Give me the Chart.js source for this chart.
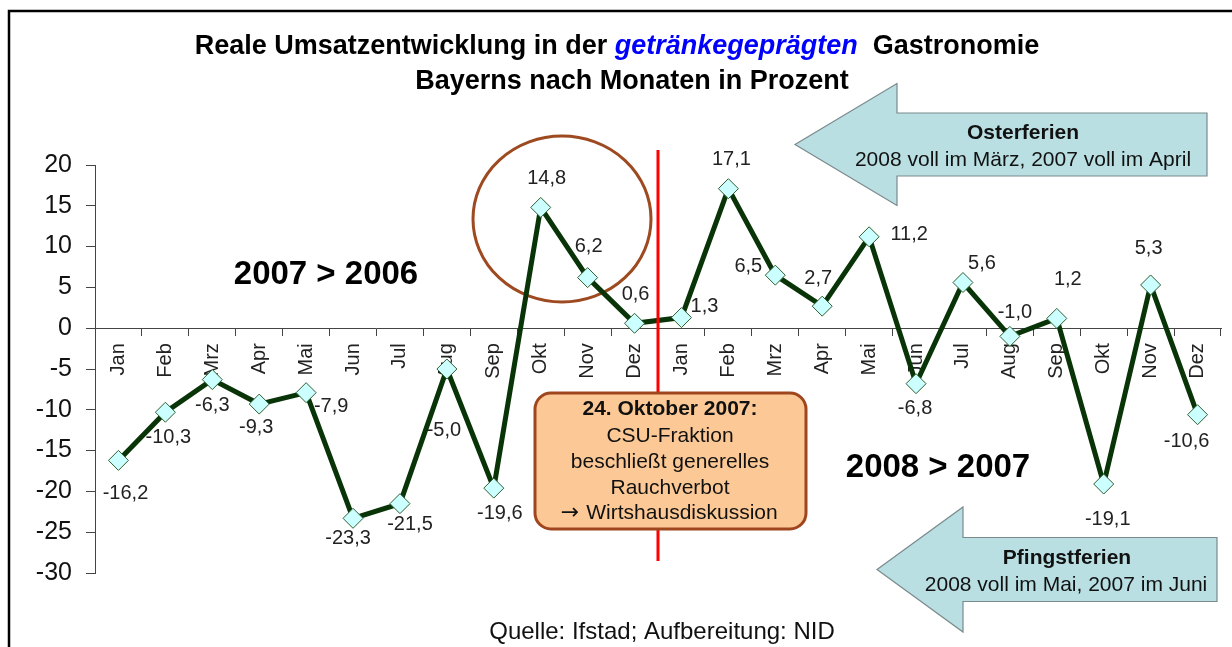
<!DOCTYPE html>
<html>
<head>
<meta charset="utf-8">
<script src="https://cdn.jsdelivr.net/npm/chart.js@4.4.1/dist/chart.umd.min.js"></script>
<style>
  html, body { margin: 0; padding: 0; background: #fff; }
  #wrap { width: 1232px; height: 647px; }
</style>
</head>
<body>
<div id="wrap"><canvas id="myChart" width="1232" height="647"></canvas></div>
<script>
// data: Veränderung zum Vorjahresmonat in %
const months = ['Jan', 'Feb', 'Mrz', 'Apr', 'Mai', 'Jun', 'Jul', 'Aug', 'Sep', 'Okt', 'Nov', 'Dez',
                'Jan', 'Feb', 'Mrz', 'Apr', 'Mai', 'Jun', 'Jul', 'Aug', 'Sep', 'Okt', 'Nov', 'Dez'];
const umsatz = [-16.2, -10.3, -6.3, -9.3, -7.9, -23.3, -21.5, -5.0, -19.6, 14.8, 6.2, 0.6,
                1.3, 17.1, 6.5, 2.7, 11.2, -6.8, 5.6, -1.0, 1.2, -19.1, 5.3, -10.6];
const yMin = -30;
const yMax = 20;
const yStep = 5;

// where each value label sits relative to its point (px)
const labelOffsets = [[7, 33], [3, 25], [0, 26], [-3, 23], [25, 14], [-5, 20], [10, 21], [-3, 61],
                      [6, 25], [6, -29], [1, -31], [1, -29], [23, -11], [3, -29], [-27, -9], [-4, -28],
                      [40, -2], [-1, 25], [19, -19], [5, -24], [11, -39], [4, 35], [-2, -36], [-11, 27]];

const FONT = "'Liberation Sans', Arial, sans-serif";
Chart.defaults.font.family = FONT;

function fmt(v) {
    return v.toFixed(1).replace('.', ',');
}

function leftArrow(ctx, tipX, cy, headX, headHalf, shaftHalf, rightX) {
    ctx.save();
    ctx.beginPath();
    ctx.moveTo(tipX, cy);
    ctx.lineTo(headX, cy - headHalf);
    ctx.lineTo(headX, cy - shaftHalf);
    ctx.lineTo(rightX, cy - shaftHalf);
    ctx.lineTo(rightX, cy + shaftHalf);
    ctx.lineTo(headX, cy + shaftHalf);
    ctx.lineTo(headX, cy + headHalf);
    ctx.closePath();
    ctx.fillStyle = '#b9dfe3';
    ctx.fill();
    ctx.strokeStyle = '#7a8a8c';
    ctx.lineWidth = 1.2;
    ctx.stroke();
    ctx.restore();
}

function text(ctx, str, x, y, font, color, align) {
    ctx.font = font;
    ctx.fillStyle = color || '#000';
    ctx.textAlign = align || 'center';
    ctx.textBaseline = 'middle';
    ctx.fillText(str, x, y);
}

const frame = {
    id: 'frame',
    beforeDraw(chart) {
        const ctx = chart.ctx;
        ctx.save();
        ctx.fillStyle = '#fff';
        ctx.fillRect(0, 0, chart.width, chart.height);
        ctx.strokeStyle = '#000';
        ctx.lineWidth = 2.5;
        ctx.beginPath();
        ctx.moveTo(9, chart.height);
        ctx.lineTo(9, 11);
        ctx.lineTo(chart.width, 11);
        ctx.stroke();
        ctx.restore();
    },
    beforeDatasetsDraw(chart) {
        // circle round Okt/Nov 2007
        const ctx = chart.ctx;
        ctx.save();
        ctx.strokeStyle = '#9e4a20';
        ctx.lineWidth = 3;
        ctx.beginPath();
        ctx.ellipse(562, 219, 89, 83, 0, 0, Math.PI * 2);
        ctx.stroke();
        ctx.restore();
    },
    afterDatasetsDraw(chart) {
        const ctx = chart.ctx;
        const xs = chart.scales.x;
        const meta = chart.getDatasetMeta(0);
        ctx.save();

        // value labels
        meta.data.forEach((pt, i) => {
            const o = labelOffsets[i];
            text(ctx, fmt(umsatz[i]), pt.x + o[0], pt.y + o[1], '20px ' + FONT, '#222');
        });

        // red line between Dez 2007 and Jan 2008
        const xr = (xs.getPixelForValue(11) + xs.getPixelForValue(12)) / 2;
        ctx.strokeStyle = '#ff0000';
        ctx.lineWidth = 3;
        ctx.beginPath();
        ctx.moveTo(xr, 150);
        ctx.lineTo(xr, 561);
        ctx.stroke();

        // Rauchverbot box
        ctx.beginPath();
        ctx.roundRect(535, 393, 271, 136, 16);
        ctx.fillStyle = '#fcc996';
        ctx.fill();
        ctx.strokeStyle = '#a0461e';
        ctx.lineWidth = 3;
        ctx.stroke();
        text(ctx, '24. Oktober 2007:', 670, 409, 'bold 21px ' + FONT, '#111');
        text(ctx, 'CSU-Fraktion', 670, 436, '21px ' + FONT, '#111');
        text(ctx, 'beschließt generelles', 670, 462, '21px ' + FONT, '#111');
        text(ctx, 'Rauchverbot', 670, 488, '21px ' + FONT, '#111');
        text(ctx, '\u2192', 570, 513, '22px DejaVu Sans', '#111');
        text(ctx, 'Wirtshausdiskussion', 682, 513, '21px ' + FONT, '#111');

        // arrows
        leftArrow(ctx, 795, 144.5, 897, 61, 31.5, 1207);
        text(ctx, 'Osterferien', 1023, 133, 'bold 21px ' + FONT, '#111');
        text(ctx, '2008 voll im März, 2007 voll im April', 1023, 160, '21px ' + FONT, '#111');
        leftArrow(ctx, 877, 569.5, 963, 62.5, 32, 1217);
        text(ctx, 'Pfingstferien', 1067, 558, 'bold 21px ' + FONT, '#111');
        text(ctx, '2008 voll im Mai, 2007 im Juni', 1066, 585, '21px ' + FONT, '#111');

        // period labels
        text(ctx, '2007 > 2006', 326, 275, 'bold 33px ' + FONT, '#000');
        text(ctx, '2008 > 2007', 938, 468, 'bold 33px ' + FONT, '#000');

        // title
        const tf = 'bold 27px ' + FONT;
        const tfi = 'italic bold 27px ' + FONT;
        const p1 = 'Reale Umsatzentwicklung in der ';
        const p2 = 'getränkegeprägten';
        const p3 = '  Gastronomie';
        ctx.font = tf;
        const w1 = ctx.measureText(p1).width;
        const w3 = ctx.measureText(p3).width;
        ctx.font = tfi;
        const w2 = ctx.measureText(p2).width;
        let tx = 617 - (w1 + w2 + w3) / 2;
        text(ctx, p1, tx, 47, tf, '#000', 'left');
        text(ctx, p2, tx + w1, 47, tfi, '#0000ff', 'left');
        text(ctx, p3, tx + w1 + w2, 47, tf, '#000', 'left');
        text(ctx, 'Bayerns nach Monaten in Prozent', 632, 82, tf, '#000');

        // source
        text(ctx, 'Quelle: Ifstad; Aufbereitung: NID', 662, 632, '24px ' + FONT, '#111');
        ctx.restore();
    }
};

const ctx = document.getElementById('myChart');
const myChart = new Chart(ctx, {
    type: 'line',
    data: {
        labels: months,
        datasets: [{
            data: umsatz,
            borderColor: '#083408',
            borderWidth: 5,
            tension: 0,
            pointStyle: 'rectRot',
            pointRadius: 10,
            pointBackgroundColor: '#ccffff',
            pointBorderColor: '#2f5f2f',
            pointBorderWidth: 1,
            clip: false
        }]
    },
    options: {
        responsive: false,
        animation: false,
        layout: { padding: { left: 0, right: 2, top: 165, bottom: 74 } },
        scales: {
            x: {
                type: 'category',
                position: { y: 0 },
                offset: true,
                grid: { offset: true, drawOnChartArea: false, tickLength: 7, color: '#444' },
                border: { display: true, color: '#444', width: 1 },
                ticks: { maxRotation: 90, minRotation: 90, autoSkip: false, padding: 8,
                         font: { size: 20 }, color: '#222' }
            },
            y: {
                min: yMin,
                max: yMax,
                ticks: { stepSize: yStep, padding: 14, font: { size: 25 }, color: '#111' },
                grid: { drawOnChartArea: false, tickLength: 9, color: '#444' },
                border: { display: true, color: '#444', width: 1 },
                afterFit(scale) { scale.width = 95; }
            }
        },
        plugins: {
            legend: { display: false },
            tooltip: { enabled: false }
        }
    },
    plugins: [frame]
});
</script>
</body>
</html>
